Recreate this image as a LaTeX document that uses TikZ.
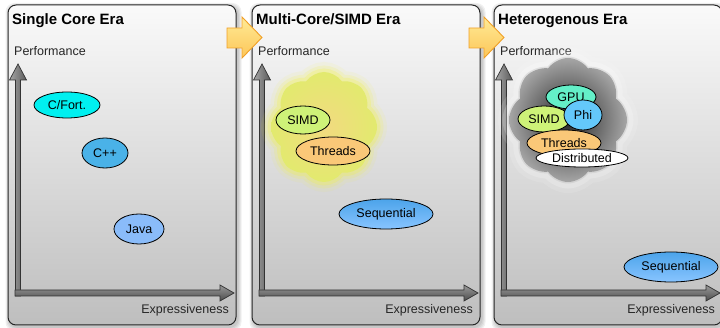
\documentclass[tikz,border=0pt]{standalone}
\usepackage{fontspec}
\setmainfont{Liberation Sans}
\usetikzlibrary{shapes.geometric,shapes.symbols}

\definecolor{panelTop}{RGB}{250,250,250}
\definecolor{panelBot}{RGB}{190,190,190}
\definecolor{eraFillTop}{RGB}{255,234,150}
\definecolor{eraFillBot}{RGB}{252,198,88}
\definecolor{eraLine}{RGB}{240,160,40}
\definecolor{cfort}{RGB}{0,240,240}
\definecolor{cpp}{RGB}{74,178,232}
\definecolor{java}{RGB}{138,188,250}
\definecolor{simd}{RGB}{206,242,120}
\definecolor{threads}{RGB}{250,200,120}
\definecolor{seqTop}{RGB}{76,164,234}
\definecolor{seqBot}{RGB}{136,196,255}
\definecolor{gpu}{RGB}{100,240,200}
\definecolor{phi}{RGB}{100,200,250}
\definecolor{glowYellow}{RGB}{245,245,50}
\definecolor{cloudIn}{RGB}{242,218,128}
\definecolor{cloudOut}{RGB}{226,234,110}

\tikzset{
  panel/.style={draw=black!85, line width=1pt, rounded corners=8pt,
    top color=panelTop, bottom color=panelBot},
  paneltitle/.style={font=\fontsize{15}{18}\selectfont\bfseries, anchor=base west, inner sep=0},
  axislabel/.style={font=\fontsize{12.5}{15}\selectfont, inner sep=0, text=black!85},
  lang/.style={ellipse, draw=black, line width=0.8pt, inner sep=0,
    font=\fontsize{12.5}{15}\selectfont},
  axisarrow/.style={draw=black!80, line width=0.7pt, line join=miter},
  eraarrow/.style={draw=eraLine, line width=0.9pt, line join=miter,
    top color=eraFillTop, bottom color=eraFillBot},
  blob/.style={cloud, cloud puffs=8, cloud puff arc=110, inner sep=0},
}

\begin{document}
\begin{tikzpicture}[x=1pt, y=-1pt]
\useasboundingbox (0,0) rectangle (720,328);
\clip (0,0) rectangle (720,328);

% panels with soft shadows, axes and labels
\foreach \dx/\ttl in {0/Single Core Era, 244/Multi-Core\slash SIMD Era, 486/Heterogenous Era}{
  \begin{scope}[xshift=\dx pt]
    \foreach \s in {1,2,3,4}
      \fill[black, opacity=0.06, rounded corners=9pt]
        (8-\s+1.5, 5-\s+2) rectangle (236+\s+1.5, 325+\s+2);
    \path[panel] (8,5) rectangle (236,325);
    \node[paneltitle] at (12,25) {\ttl};
    \node[axislabel, anchor=base west] at (14,55.7) {Performance};
    \node[axislabel, anchor=base east] at (229,313.5) {Expressiveness};
    % vertical axis
    \path[axisarrow, left color=black!35, right color=black!65]
      (15.5,296) -- (15.5,80) -- (9.5,80) -- (18,64) -- (26.5,80) -- (20.5,80) -- (20.5,296) -- cycle;
    % horizontal axis
    \path[axisarrow, top color=black!40, bottom color=black!70]
      (15,290) -- (220,290) -- (220,285) -- (234,293) -- (220,301) -- (220,296) -- (15,296) -- cycle;
  \end{scope}
}

% transitions between eras
\path[eraarrow] (227,28) -- (242,28) -- (242,17) -- (262,37.5) -- (242,58) -- (242,48) -- (227,48) -- cycle;
\path[eraarrow] (469,28) -- (484,28) -- (484,17) -- (504,37.5) -- (484,58) -- (484,48) -- (469,48) -- cycle;

% single core era
\node[lang, fill=cfort, minimum width=66pt, minimum height=26pt] (cfort) at (67,105) {C/Fort.};
\node[lang, fill=cpp, minimum width=46pt, minimum height=30pt] (cpp) at (105,153) {C++};
\node[lang, fill=java, minimum width=50pt, minimum height=30pt] (java) at (139,229) {Java};

% multi-core / SIMD era
\node[blob, minimum width=106pt, minimum height=110pt, shape border rotate=10,
  preaction={draw=glowYellow, draw opacity=0.08, line width=20pt},
  preaction={draw=glowYellow, draw opacity=0.14, line width=13pt},
  preaction={draw=glowYellow, draw opacity=0.22, line width=7pt},
  inner color=cloudIn, outer color=cloudOut] (parcloud) at (324,127) {};
\node[lang, fill=simd, minimum width=54pt, minimum height=28pt] (simdA) at (303,120) {SIMD};
\node[lang, fill=threads, minimum width=74pt, minimum height=28pt] (threadsA) at (333,151) {Threads};
\node[lang, top color=seqTop, bottom color=seqBot, minimum width=94pt, minimum height=30pt] (seqA) at (386,214) {Sequential};

% heterogenous era
\node[blob, minimum width=118pt, minimum height=124pt, shape border rotate=10,
  preaction={draw=white, draw opacity=0.12, line width=22pt},
  preaction={draw=white, draw opacity=0.20, line width=13pt},
  preaction={draw=black!35, draw opacity=0.25, line width=3pt},
  inner color=black!85, outer color=black!35] (hetcloud) at (568,120) {};
\node[lang, fill=gpu, minimum width=50pt, minimum height=24pt] (gpu) at (571,97) {GPU};
\node[lang, fill=simd, minimum width=52pt, minimum height=26pt] (simdB) at (544,119) {SIMD};
\node[lang, fill=phi, minimum width=38pt, minimum height=30pt] (phi) at (583,115) {Phi};
\node[lang, fill=threads, minimum width=74pt, minimum height=26pt] (threadsB) at (564,143) {Threads};
\node[lang, fill=white, minimum width=92pt, minimum height=18pt] (dist) at (582,158) {Distributed};
\node[lang, top color=seqTop, bottom color=seqBot, minimum width=94pt, minimum height=30pt] (seqB) at (671,267) {Sequential};
\end{tikzpicture}
\end{document}
